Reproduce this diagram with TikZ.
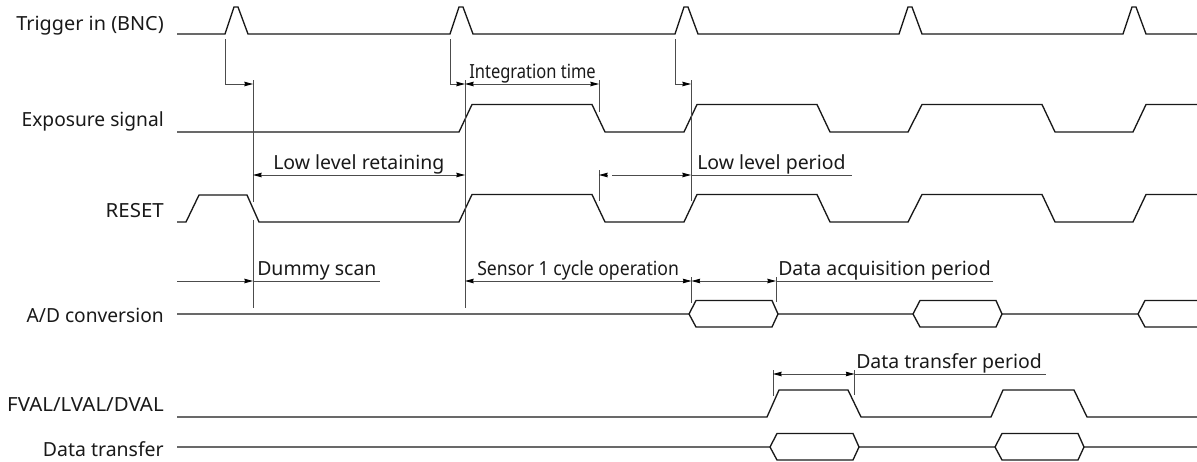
\documentclass[tikz,border=0pt]{standalone}
\usepackage{fontspec}
\setmainfont{Noto Sans}
\usetikzlibrary{arrows.meta}
\newcommand{\lblfont}{\fontsize{14.6}{16}\selectfont}
\tikzset{
  sigline/.style={line width=1pt,black!90,line join=miter},
  dimline/.style={line width=0.6pt,black!70},
  tick/.style={line width=0.55pt,black!70},
  both/.style={dimline,{Stealth[length=6.5pt,width=3.4pt,inset=0.5pt,black]}-{Stealth[length=6.5pt,width=3.4pt,inset=0.5pt,black]}},
  right/.style={dimline,-{Stealth[length=6.5pt,width=3.4pt,inset=0.5pt,black]}},
  sl/.style={anchor=base east,inner sep=0pt,font=\lblfont,text=black!90},
  al/.style={anchor=base west,inner sep=0pt,font=\lblfont,text=black!90}
}
\begin{document}
\begin{tikzpicture}[x=0.75pt,y=-0.75pt]
\useasboundingbox (0,0) rectangle (1197,461);
% signal labels
\node[sl] (l1) at (164,30) {\scalebox{1.02}[1]{Trigger in (BNC)}};
\node[sl] (l2) at (164,126) {\scalebox{0.985}[1]{Exposure signal}};
\node[sl] (l3) at (164,217) {\scalebox{1.05}[1]{RESET}};
\node[sl] (l4) at (164,322) {\scalebox{0.985}[1]{A/D conversion}};
\node[sl] (l5) at (164,411) {\scalebox{1.05}[1]{FVAL/LVAL/DVAL}};
\node[sl] (l6) at (164,456) {Data transfer};
% trigger
\draw[sigline] (177,34) -- (225,34) -- (234,7) -- (238,7) -- (248,34)
 -- (450,34) -- (459,7) -- (463,7) -- (473,34)
 -- (675,34) -- (684,7) -- (688,7) -- (698,34)
 -- (899,34) -- (908,7) -- (912,7) -- (922,34)
 -- (1123,34) -- (1132,7) -- (1136,7) -- (1146,34) -- (1197,34);
% exposure
\draw[sigline] (177,132) -- (459,132) -- (472,104.5) -- (592,104.5) -- (605,132)
 -- (684,132) -- (697,104.5) -- (817,104.5) -- (830,132)
 -- (908,132) -- (922,104.5) -- (1042,104.5) -- (1055,132)
 -- (1133,132) -- (1146,104.5) -- (1197,104.5);
% reset
\draw[sigline] (177,222) -- (186,222) -- (199,195) -- (247,195) -- (259,222)
 -- (459,222) -- (472,194.5) -- (592,194.5) -- (605,222)
 -- (684,222) -- (697,194.5) -- (817,194.5) -- (830,222)
 -- (908,222) -- (922,194.5) -- (1042,194.5) -- (1055,222)
 -- (1133,222) -- (1146,194.5) -- (1197,194.5);
% A/D
\draw[sigline] (177,314) -- (689,314) -- (696,300.5) -- (772,300.5) -- (778,314) -- (772,327) -- (696,327) -- (689,314);
\draw[sigline] (778,314) -- (913,314) -- (920,300.5) -- (996,300.5) -- (1002,314) -- (996,327) -- (920,327) -- (913,314);
\draw[sigline] (1002,314) -- (1138,314) -- (1145,300.5) -- (1197,300.5);
\draw[sigline] (1138,314) -- (1145,327) -- (1197,327);
% FVAL
\draw[sigline] (177,417) -- (767,417) -- (779,390) -- (848,390) -- (861,417)
 -- (991,417) -- (1003,390) -- (1074,390) -- (1087,417) -- (1197,417);
% data transfer
\draw[sigline] (177,447) -- (770,447) -- (777,433.5) -- (853,433.5) -- (859,447) -- (853,460) -- (777,460) -- (770,447);
\draw[sigline] (859,447) -- (995,447) -- (1002,433.5) -- (1078,433.5) -- (1084,447) -- (1197,447);
\draw[sigline] (995,447) -- (1002,460) -- (1078,460) -- (1084,447);
% marks
\coordinate (a) at (253,84); \coordinate (b) at (465,84); \coordinate (c) at (599,84); \coordinate (d) at (691,84);
% trigger delays
\draw[right] (225,39) -- (225,84) -- (a);
\draw[right] (450,39) -- (450,84) -- (b);
\draw[right] (675,39) -- (675,84) -- (d);
% verticals
\draw[tick] (253,80) -- (253,202);
\draw[tick] (253,220) -- (253,308);
\draw[tick] (465,80) -- (465,308);
\draw[tick] (599,80) -- (599,112);
\draw[tick] (691,80) -- (691,201);
\draw[tick] (599,170) -- (599,201);
\draw[tick] (691.5,277) -- (691.5,303);
\draw[tick] (776,277) -- (776,302);
\draw[tick] (773,370) -- (773,396);
\draw[tick] (854.5,370) -- (854.5,395);
% dimensions
\draw[both] (b) -- (c);
\node[al] (t1) at (469,78) {\scalebox{0.847}[1]{Integration time}};
\draw[both] (253,175) -- (465,175);
\node[al] (t2) at (273,169) {Low level retaining};
\draw[dimline,{Stealth[length=6.5pt,width=3.4pt,inset=0.5pt,black]}-] (599,175) -- (607,175);
\draw[right] (612,175) -- (691,175);
\draw[dimline] (691,175) -- (852,175);
\node[al] (t3) at (697,169) {Low level period};
\draw[right] (177,281) -- (253,281);
\draw[dimline] (253,281) -- (380,281);
\node[al] (t4) at (257,275) {Dummy scan};
\draw[both] (465,281) -- (691.5,281);
\node[al] (t5) at (477,275) {\scalebox{0.905}[1]{Sensor 1 cycle operation}};
\draw[both] (691.5,281) -- (776,281);
\draw[dimline] (776,281) -- (993,281);
\node[al] (t6) at (778,275) {Data acquisition period};
\draw[both] (773,374) -- (854.5,374);
\draw[dimline] (854.5,374) -- (1046,374);
\node[al] (t7) at (856,368) {Data transfer period};
\end{tikzpicture}
\end{document}
